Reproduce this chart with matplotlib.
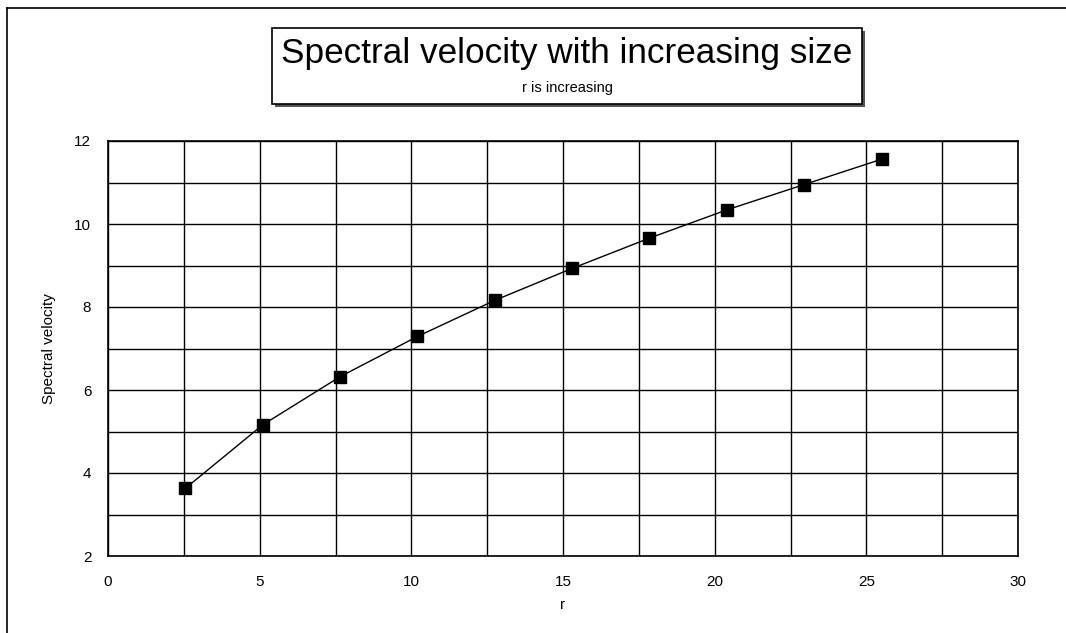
import matplotlib.pyplot as plt
from matplotlib.patches import Rectangle
from matplotlib.lines import Line2D

plt.rcParams['font.family'] = ['Liberation Sans', 'DejaVu Sans']

# Data
r = [2.55, 5.1, 7.65, 10.2, 12.75, 15.3, 17.85, 20.4, 22.95, 25.5]
velocity = [3.63, 5.16, 6.32, 7.29, 8.16, 8.93, 9.66, 10.34, 10.95, 11.56]

x_ticks = [0, 5, 10, 15, 20, 25, 30]
y_ticks = [2, 4, 6, 8, 10, 12]

W, H = 1066, 633
fig = plt.figure(figsize=(W / 100, H / 100), dpi=100)

# plot area in pixels: left 108, right 1018, top 141, bottom 556
ax = fig.add_axes([108 / W, 1 - 556 / H, (1018 - 108) / W, (556 - 141) / H])
ax.set_xlim(0, 30)
ax.set_ylim(2, 12)

ax.set_xticks(x_ticks)
ax.set_yticks(y_ticks)
ax.set_xticks([2.5 + 5 * i for i in range(6)], minor=True)
ax.set_yticks([3, 5, 7, 9, 11], minor=True)
ax.grid(True, which='both', color='black', linewidth=1.0)
ax.set_axisbelow(True)
ax.tick_params(which='both', length=0, labelsize=11, colors='black')
ax.tick_params(axis='x', pad=14)
ax.tick_params(axis='y', pad=12)
for s in ax.spines.values():
    s.set_color('black')
    s.set_linewidth(1.2)

ax.plot(r, velocity, color='black', linewidth=1.0, marker='s',
        markersize=9, markerfacecolor='black', markeredgecolor='black', zorder=3)

ax.set_xlabel('r', fontsize=11, labelpad=6)
ax.set_ylabel('Spectral velocity', fontsize=11, labelpad=13)

# title box with shadow
bx0, by0, bx1, by1 = 272, 28, 862, 104
fig.patches.append(Rectangle((bx0 / W + 3 / W, 1 - (by1 + 3) / H), (bx1 - bx0) / W, (by1 - by0) / H,
                             transform=fig.transFigure, facecolor='#555555', edgecolor='none'))
fig.patches.append(Rectangle((bx0 / W, 1 - by1 / H), (bx1 - bx0) / W, (by1 - by0) / H,
                             transform=fig.transFigure, facecolor='white', edgecolor='black',
                             linewidth=1.2))
fig.text((bx0 + bx1) / 2 / W, 1 - 54 / H, 'Spectral velocity with increasing size',
         ha='center', va='center', fontsize=25.3)
fig.text((bx0 + bx1) / 2 / W, 1 - 88 / H, 'r is increasing',
         ha='center', va='center', fontsize=10.5)

# outer chart frame (left and top edges visible)
fig.lines.append(Line2D([7 / W, 7 / W], [0, 1 - 8 / H], transform=fig.transFigure,
                        color='black', linewidth=1.2))
fig.lines.append(Line2D([7 / W, 1], [1 - 8 / H, 1 - 8 / H], transform=fig.transFigure,
                        color='black', linewidth=1.2))

fig.savefig('out.png', dpi=100)
